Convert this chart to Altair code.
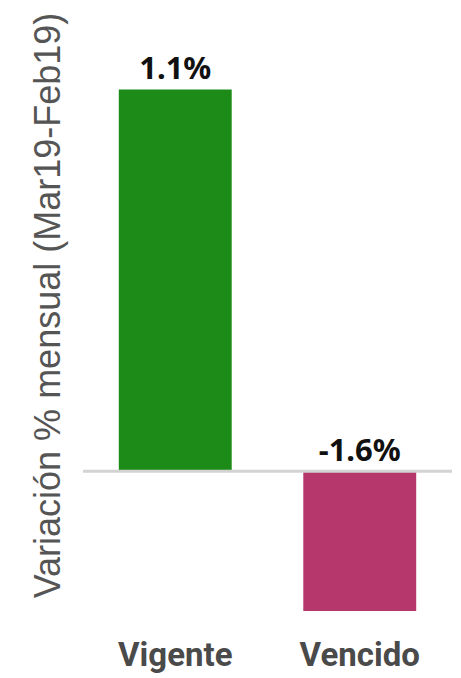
import altair as alt
import pandas as pd

categorias = ["Vigente", "Vencido"]
valores = [1.1, -1.6]
etiquetas = ["1.1%", "-1.6%"]
colores = ["#1d8b18", "#b5376c"]

df = pd.DataFrame({"cat": categorias, "val": valores, "lab": etiquetas, "col": colores})

x = alt.X("cat:N", sort=categorias,
          scale=alt.Scale(paddingInner=0.388, paddingOuter=0.194),
          axis=alt.Axis(title=None, domain=False, ticks=False, labelAngle=0,
                        labelFont="Roboto", labelFontWeight="bold", labelFontSize=33,
                        labelColor="#4a4a4a", labelPadding=28))
yscale = alt.Scale(domain=[-0.403, 1.3], nice=False, zero=False)

base = alt.Chart(df)

bars = base.mark_bar(clip=True).encode(
    x=x,
    y=alt.Y("val:Q", scale=yscale,
            axis=alt.Axis(title="Variación % mensual (Mar19-Feb19)", labels=False, ticks=False,
                          domain=False, grid=False, titleFont="Liberation Sans",
                          titleFontSize=36, titleFontWeight="normal", titleColor="#555555",
                          titlePadding=16, titleY=285)),
    color=alt.Color("col:N", scale=None),
)

text = base.transform_calculate(pos="max(datum.val, 0)").mark_text(
    font="Noto Sans", fontWeight="bold", fontSize=31, color="#111111",
    baseline="alphabetic", dy=-10,
).encode(
    x=alt.X("cat:N", sort=categorias),
    y=alt.Y("pos:Q", scale=yscale),
    text="lab:N",
)

zero = alt.Chart(pd.DataFrame({"z": [0]})).mark_rule(color="#d3d3d3", strokeWidth=3).encode(
    y=alt.Y("z:Q", scale=yscale),
    x=alt.value(0), x2=alt.value(369),
)

chart = alt.layer(bars, text, zero).properties(
    width=369, height=591,
    autosize="none",
    padding={"left": 75, "top": 12, "right": 0, "bottom": 66},
).configure(background="white").configure_view(stroke=None, strokeWidth=0)

chart.save("out.html", embed_options={"renderer": "svg", "actions": False})
